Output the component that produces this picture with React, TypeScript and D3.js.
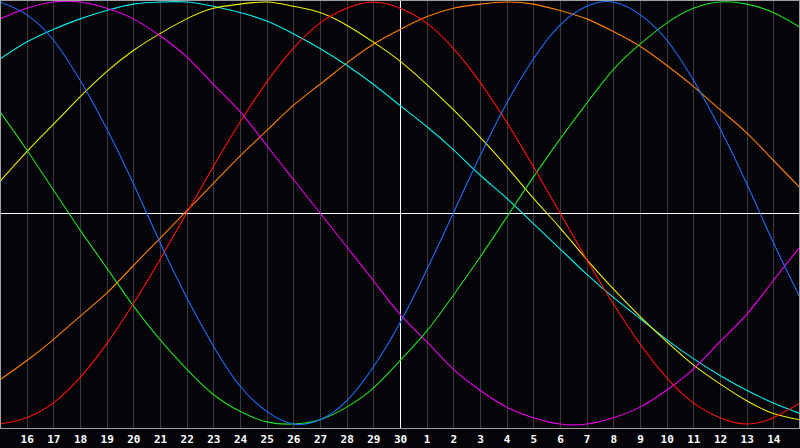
import React, { useEffect, useRef } from 'react';
import * as d3 from 'd3';

// day labels under the grid lines (index 1..29), index 0 and 30 are the 15th
const dayLabels = ['16', '17', '18', '19', '20', '21', '22', '23', '24', '25', '26', '27', '28', '29', '30',
  '1', '2', '3', '4', '5', '6', '7', '8', '9', '10', '11', '12', '13', '14'];

// values (-100..100) read at each day line, from the 15th to the 15th
const physical = [100, 94, 82, 63, 40, 14, -14, -40, -63, -82, -94, -100, -98, -89, -73, -52,
  -27, 0, 27, 52, 73, 89, 98, 100, 94, 82, 63, 40, 14, -14, -40];
const emotional = [-100, -97, -90, -78, -62, -43, -22, 0, 22, 43, 62, 78, 90, 97, 100, 97,
  90, 78, 62, 43, 22, 0, -22, -43, -62, -78, -90, -97, -100, -97, -90];
const intellectual = [48, 30, 11, -8, -26, -44, -60, -74, -86, -94, -99, -100, -98, -92, -83, -70,
  -56, -39, -21, -2, 17, 35, 52, 68, 80, 90, 97, 100, 99, 95, 88];
const intuitive = [92, 97, 100, 100, 97, 92, 84, 74, 61, 48, 32, 16, 0, -16, -32, -48,
  -61, -74, -84, -92, -97, -100, -100, -97, -92, -84, -74, -61, -48, -32, -16];
const aesthetic = [15, 29, 42, 55, 67, 77, 85, 92, 97, 99, 100, 98, 95, 89, 81, 72,
  61, 49, 36, 22, 7, -7, -22, -36, -49, -61, -72, -81, -89, -95, -98];
const awareness = [-79, -70, -60, -49, -38, -25, -12, 1, 14, 27, 39, 51, 61, 71, 80, 87,
  93, 97, 99, 100, 99, 96, 92, 86, 79, 70, 60, 49, 38, 25, 12];
const spiritual = [73, 81, 87, 92, 96, 99, 100, 100, 98, 95, 91, 85, 78, 70, 61, 51,
  41, 30, 18, 7, -5, -17, -29, -40, -50, -60, -69, -77, -84, -90, -95];

const series = [
  { name: 'awareness', values: awareness, color: '#ff8000' },
  { name: 'spiritual', values: spiritual, color: '#00f0f0' },
  { name: 'aesthetic', values: aesthetic, color: '#f0f000' },
  { name: 'intuitive', values: intuitive, color: '#f000f0' },
  { name: 'intellectual', values: intellectual, color: '#20e020' },
  { name: 'emotional', values: emotional, color: '#ff1010' },
  { name: 'physical', values: physical, color: '#1a70ff' },
];

const W = 800;
const H = 448;

const App: React.FC = () => {
  const ref = useRef<SVGSVGElement | null>(null);

  useEffect(() => {
    document.body.style.margin = '0';
    if (!ref.current) return;
    const svg = d3.select(ref.current);
    svg.selectAll('*').remove();

    const plotBottom = 428;
    const x = d3.scaleLinear().domain([0, 30]).range([0, W]);
    const y = d3.scaleLinear().domain([-100, 100]).range([424, 2]);

    svg.append('rect').attr('width', W).attr('height', H).attr('fill', '#050408');

    // day grid
    const ticks = d3.range(1, 30);
    svg.append('g')
      .selectAll('line')
      .data(ticks)
      .enter()
      .append('line')
      .attr('x1', d => Math.round(x(d)) + 0.5)
      .attr('x2', d => Math.round(x(d)) + 0.5)
      .attr('y1', 0)
      .attr('y2', plotBottom)
      .attr('stroke', d => (d === 15 ? '#ffffff' : '#3a3a3c'))
      .attr('stroke-width', 1);

    // zero line
    svg.append('line')
      .attr('x1', 0)
      .attr('x2', W)
      .attr('y1', Math.round(y(0)) + 0.5)
      .attr('y2', Math.round(y(0)) + 0.5)
      .attr('stroke', '#ffffff');

    // curves
    const line = d3
      .line<number>()
      .x((_, i) => x(i))
      .y(d => y(d))
      .curve(d3.curveNatural);

    svg.append('g')
      .selectAll('path')
      .data(series)
      .enter()
      .append('path')
      .attr('d', d => line(d.values))
      .attr('fill', 'none')
      .attr('stroke', d => d.color)
      .attr('stroke-width', 1.1);

    // frame
    svg.append('rect')
      .attr('x', 0.5)
      .attr('y', 0.5)
      .attr('width', W - 1)
      .attr('height', plotBottom)
      .attr('fill', 'none')
      .attr('stroke', '#a0a0a0');

    // day labels
    svg.append('g')
      .selectAll('text')
      .data(ticks)
      .enter()
      .append('text')
      .attr('x', d => x(d) + 0.5)
      .attr('y', 443)
      .attr('text-anchor', 'middle')
      .attr('fill', '#ffffff')
      .attr('font-family', '"DejaVu Sans Mono", monospace')
      .attr('font-weight', 'bold')
      .attr('font-size', 11)
      .text(d => dayLabels[d - 1]);
  }, []);

  return (
    <svg
      ref={ref}
      width={W}
      height={H}
      style={{ display: 'block', position: 'absolute', left: 0, top: 0 }}
    />
  );
};

export default App;
